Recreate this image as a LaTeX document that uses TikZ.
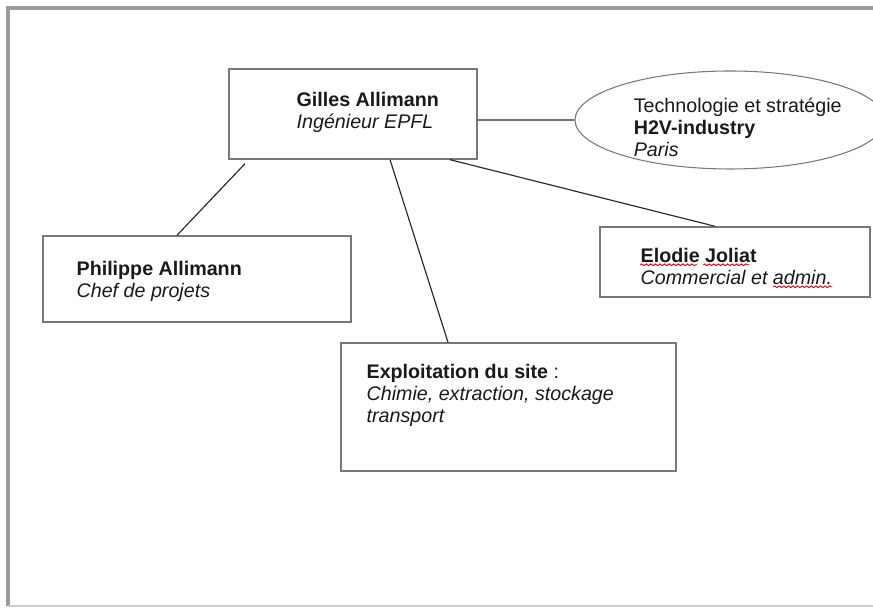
\documentclass[tikz,border=0pt]{standalone}
\usepackage{fontspec}
\setmainfont{Liberation Sans}
\usepackage{xcolor}
\usepackage{tikz}
\usetikzlibrary{positioning}
\usetikzlibrary{shapes.geometric}
\usetikzlibrary{decorations.pathmorphing}

\definecolor{boxgray}{RGB}{120,120,120}
\definecolor{cadregray}{RGB}{155,155,155}

\begin{document}
\begin{tikzpicture}[
    boite/.style={draw=boxgray, line width=0.8pt, rectangle, inner sep=0pt},
    texte/.style={align=left, inner sep=0pt, anchor=north west, text=black!90, font=\fontsize{11.2}{12.4}\selectfont},
    lien/.style={draw=black!85, line width=0.65pt},
    faute/.style={draw=red!80!black, line width=0.5pt, decorate, decoration={snake, amplitude=0.5pt, segment length=2.6pt}}
]
    \useasboundingbox (0,0) rectangle (17.46,12.16);

    % Cadre
    \draw[cadregray, line width=2.2pt] (0.16,0.04) -- (0.16,12.0) -- (17.6,12.0);
    \draw[gray!40, line width=1pt] (0.16,0.04) -- (17.6,0.04);

    % Direction
    \node[boite, minimum width=4.96cm, minimum height=1.8cm] (gilles) at (7.06,9.88) {};
    \node[texte] (gillesT) at ([xshift=1.36cm, yshift=-0.48cm]gilles.north west)
        {\textbf{Gilles Allimann}\\\textit{Ingénieur EPFL}};

    % Partenaire
    \node[draw=boxgray, line width=0.6pt, ellipse, minimum width=6.2cm, minimum height=1.96cm, inner sep=0pt] (h2v) at (14.6,9.76) {};
    \node[texte] (h2vT) at ([xshift=1.18cm, yshift=0.44cm]h2v.west)
        {Technologie et stratégie\\\textbf{H2V-industry}\\\textit{Paris}};

    % Equipe
    \node[boite, minimum width=6.16cm, minimum height=1.72cm] (philippe) at (3.94,6.58) {};
    \node[texte] (philippeT) at ([xshift=0.68cm, yshift=-0.52cm]philippe.north west)
        {\textbf{Philippe Allimann}\\\textit{Chef de projets}};

    \node[boite, minimum width=5.4cm, minimum height=1.4cm] (elodie) at (14.7,6.92) {};
    \node[texte] (elodieT) at ([xshift=0.82cm, yshift=-0.44cm]elodie.north west)
        {\textbf{Elodie Joliat}\\\textit{Commercial et admin.}};

    \node[boite, minimum width=6.7cm, minimum height=2.56cm] (expl) at (10.17,4.02) {};
    \node[texte] (explT) at ([xshift=0.52cm, yshift=-0.44cm]expl.north west)
        {\textbf{Exploitation du site} :\\\textit{Chimie, extraction, stockage}\\\textit{transport}};

    % Soulignements du correcteur
    \draw[faute] ([yshift=-0.33cm]elodieT.north west) -- ++(1.14,0);
    \draw[faute] ([xshift=1.26cm, yshift=-0.33cm]elodieT.north west) -- ++(0.92,0);
    \draw[faute] ([xshift=2.66cm, yshift=-0.77cm]elodieT.north west) -- ++(1.18,0);

    % Liens
    \draw[lien] ([xshift=-2.16cm, yshift=-0.08cm]gilles.south) -- ([xshift=-0.4cm]philippe.north);
    \draw[lien] ([xshift=0.74cm]gilles.south) -- ([xshift=-1.21cm]expl.north);
    \draw[lien] ([xshift=1.94cm]gilles.south) -- ([xshift=-0.4cm]elodie.north);
    \draw[lien] ([yshift=-0.12cm]gilles.east) -- (h2v.west);

\end{tikzpicture}
\end{document}
